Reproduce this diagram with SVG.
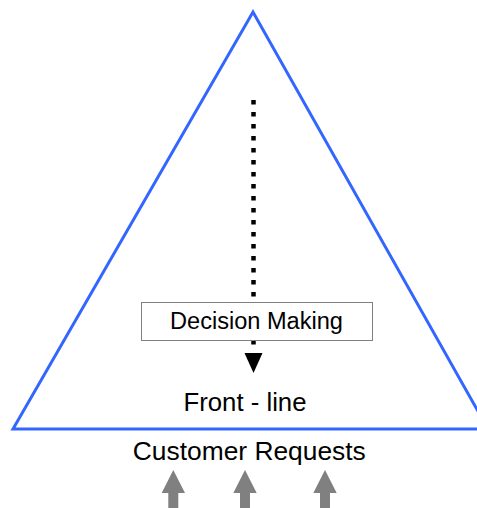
<svg xmlns="http://www.w3.org/2000/svg" width="477" height="508" viewBox="0 0 477 508">
  <style>
    .label { font-family: "Liberation Sans", Arial, sans-serif; fill: #000; text-anchor: middle; }
    .pyramid { fill: none; stroke: #3366ff; stroke-width: 3; stroke-linejoin: miter; }
    .box { fill: #fff; stroke: #808080; stroke-width: 1; }
    .flow { stroke: #000; stroke-width: 4.5; stroke-dasharray: 4.5 7.5; fill: none; }
    .flow-head { fill: #000; }
    .request { fill: #808080; }
  </style>

  <!-- organisation pyramid -->
  <g id="pyramid">
    <path class="pyramid" d="M13,429 L253,12 L488,429 Z"/>
  </g>

  <!-- connectors -->
  <g id="connectors">
    <!-- top-down decision flow -->
    <line class="flow" x1="253.5" y1="100" x2="253.5" y2="350"/>
    <path class="flow-head" d="M244.5,353 L262.5,353 L253.5,373 Z"/>
    <!-- incoming customer requests -->
    <g class="request">
      <path d="M173.3,470 L185,493 L178.3,493 L178.3,508 L168.3,508 L168.3,493 L161.7,493 Z"/>
      <path d="M245,470 L256.7,493 L250,493 L250,508 L240,508 L240,493 L233.3,493 Z"/>
      <path d="M325,470 L336.7,493 L330,493 L330,508 L320,508 L320,493 L313.3,493 Z"/>
    </g>
  </g>

  <g id="decision-making">
    <rect class="box" x="141.5" y="302.5" width="231" height="38"/>
    <text class="label" x="256.5" y="328.5" font-size="23" textLength="173" lengthAdjust="spacingAndGlyphs">Decision Making</text>
  </g>

  <g id="front-line">
    <text class="label" x="245" y="411" font-size="25" textLength="123" lengthAdjust="spacingAndGlyphs">Front - line</text>
  </g>

  <g id="customer-requests">
    <text class="label" x="249.3" y="460" font-size="25.5" textLength="233" lengthAdjust="spacingAndGlyphs">Customer Requests</text>
  </g>
</svg>
